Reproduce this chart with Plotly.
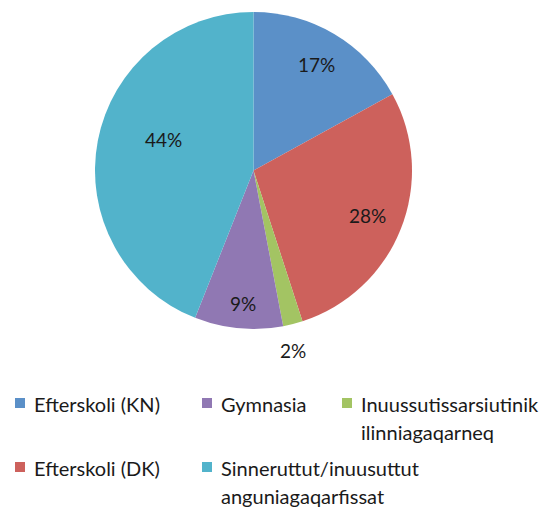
import math
import plotly.graph_objects as go

labels = ["Efterskoli (KN)", "Efterskoli (DK)", "Inuussutissarsiutinik ilinniagaqarneq",
          "Gymnasia", "Sinneruttut/inuusuttut anguniagaqarfissat"]
values = [17, 28, 2, 9, 44]
colors = ["#5B90C8", "#CD615C", "#A3C463", "#9078B3", "#52B3CB"]

# data-label placement style (fraction of radius, angle nudge in degrees)
label_radius = [0.78, 0.775, 1.16, 0.84, 0.60]
label_nudge = [0, 0, 2, -1, 8]

# legend layout: label lines and grid slot (col, row)
legend_lines = [["Efterskoli (KN)"], ["Efterskoli (DK)"],
                ["Inuussutissarsiutinik", "ilinniagaqarneq"],
                ["Gymnasia"], ["Sinneruttut/inuusuttut", "anguniagaqarfissat"]]
legend_slots = [(0, 0), (0, 1), (2, 0), (1, 0), (1, 1)]

W, H = 551, 508
OFF = 8  # page offset of the plot inside the browser window


def px(x):
    return (x - OFF) / W


def py(y):
    return 1 - (y - OFF) / H


CX, CY, R = 253.5, 170.5, 158.5
FONT = "Lato, Open Sans, sans-serif"
TXT = "#1a1a1a"

fig = go.Figure(go.Pie(
    labels=labels, values=values, sort=False, direction="clockwise", rotation=0,
    marker=dict(colors=colors, line=dict(width=0)),
    textinfo="none",
    domain=dict(x=[px(CX - R), px(CX + R)], y=[py(CY + R), py(CY - R)]),
    showlegend=False, hoverinfo="label+percent",
))

annotations, shapes = [], []
total = sum(values)
cum = 0
for v, rf, nd in zip(values, label_radius, label_nudge):
    mid = (cum + v / 2) / total * 360 + nd
    cum += v
    a = math.radians(mid)
    lx = CX + rf * R * math.sin(a)
    ly = CY - rf * R * math.cos(a)
    annotations.append(dict(text=f"{round(v / total * 100)}%", xref="paper", yref="paper",
                            x=px(lx), y=py(ly), xanchor="center", yanchor="middle",
                            showarrow=False,
                            font=dict(family=FONT, size=19, color=TXT)))

col_x = [15, 202, 342]
row_y = [403, 467]
line_gap = 28
for lines, (c, r), col in zip(legend_lines, legend_slots, colors):
    x0 = col_x[c]
    y0 = row_y[r]
    shapes.append(dict(type="rect", xref="paper", yref="paper",
                       x0=px(x0), x1=px(x0 + 10),
                       y0=py(y0 + 5), y1=py(y0 - 5),
                       fillcolor=col, line=dict(width=0)))
    for i, ln in enumerate(lines):
        annotations.append(dict(text=ln, xref="paper", yref="paper",
                                x=px(x0 + 17), y=py(y0 + 1 + i * line_gap),
                                xanchor="left", yanchor="middle", showarrow=False,
                                font=dict(family=FONT, size=20, color=TXT)))

fig.update_layout(width=W, height=H, margin=dict(l=0, r=0, t=0, b=0),
                  paper_bgcolor="white", shapes=shapes, annotations=annotations)
fig.write_html("out.html")
